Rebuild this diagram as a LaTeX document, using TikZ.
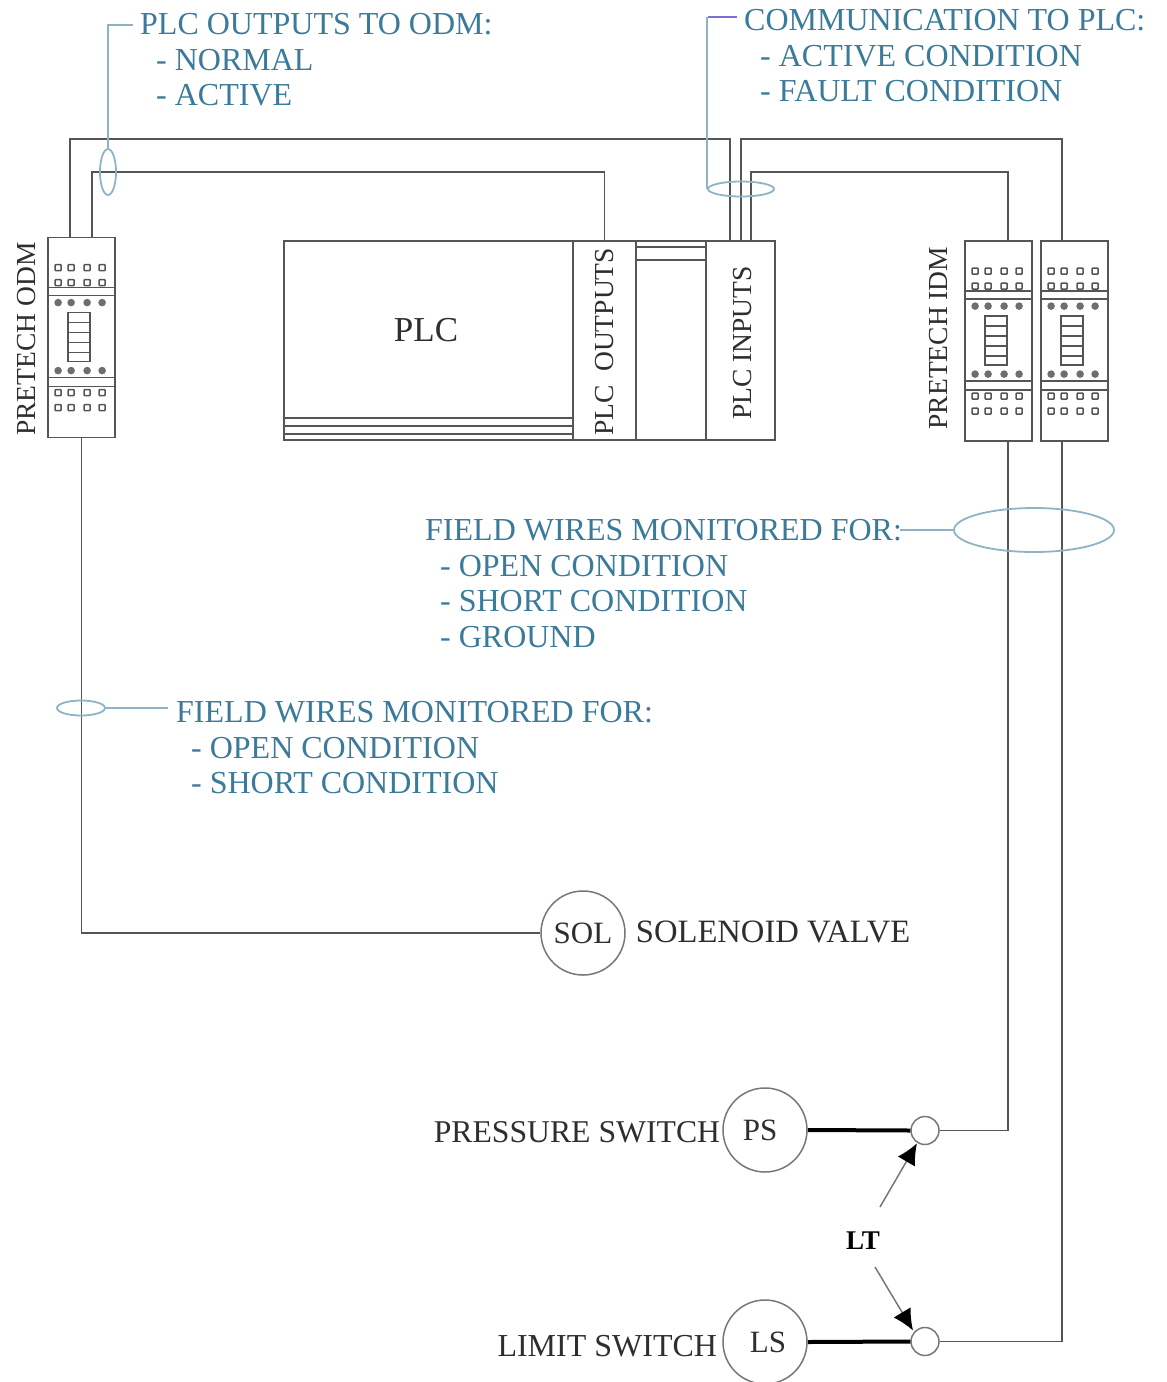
\documentclass[tikz,border=0pt]{standalone}
\usepackage{fontspec}
\setmainfont{Liberation Serif}
\usetikzlibrary{shapes.geometric, arrows.meta, positioning}
\definecolor{notecolor}{HTML}{3A7A9A}
\definecolor{ringcolor}{HTML}{8FB3C6}
\definecolor{bendcolor}{HTML}{7B6FD8}
\definecolor{wirecolor}{HTML}{555555}
\definecolor{labelcolor}{HTML}{2E2E2E}
\newcommand{\labelfont}[1]{\fontsize{#1}{35.5}\selectfont}
\newcommand{\relaybody}[1]{%
	\begin{scope}[shift={(#1.north west)}]
		\foreach \px in {11,24,40,55}{
			\foreach \py in {31,46,156,171}
				\draw[pin] (\px-3,\py-3) rectangle (\px+3,\py+3);
			\foreach \py in {66,134}
				\fill[wirecolor!85] (\px,\py) circle (3.8);
		}
		\draw[relayline] (0,51) -- (67,51) (0,59) -- (67,59) (0,141) -- (67,141) (0,150) -- (67,150);
		\draw[relayline] (21,76) rectangle (43,125);
		\foreach \py in {86,96,106,116}
			\draw[relayline] (21,\py) -- (43,\py);
	\end{scope}}
\tikzstyle{wire} = [draw=wirecolor, line width=1.8pt]
\tikzstyle{relayline} = [draw=wirecolor, line width=1.5pt]
\tikzstyle{pin} = [draw=wirecolor, line width=1.6pt, rounded corners=0.8pt]
\tikzstyle{relay} = [wire, rectangle, minimum width=67pt, minimum height=200pt, inner sep=0pt]
\tikzstyle{device} = [draw=wirecolor!80, line width=1.5pt, circle, minimum size=84pt, inner sep=0pt, text=labelcolor]
\tikzstyle{junction} = [draw=wirecolor!80, line width=1.5pt, circle, minimum size=28pt, inner sep=0pt]
\tikzstyle{ring} = [draw=ringcolor, line width=1.8pt, ellipse, inner sep=0pt]
\tikzstyle{leader} = [draw=ringcolor, line width=1.8pt]
\tikzstyle{pointer} = [-{Latex[length=21pt, width=20pt, color=black]}, draw=wirecolor!80, line width=1.5pt]
\tikzstyle{note} = [text=notecolor, align=left, anchor=west, inner sep=0pt]
\tikzstyle{caption} = [text=labelcolor, inner sep=0pt]
\tikzstyle{module} = [wire, rectangle, minimum height=199pt, inner sep=0pt]
\begin{document}
\begin{tikzpicture}[x=1pt, y=-1pt, every node/.append style={font=\labelfont{32}}]
	\useasboundingbox (0,0) rectangle (1167,1382);

	\node [relay] (odm) at (81.5,337.5) {};
	\node [relay] (idma) at (998.5,341) {};
	\node [relay] (idmb) at (1074.5,341) {};
	\relaybody{odm}
	\relaybody{idma}
	\relaybody{idmb}
	\node [caption, rotate=90, font=\labelfont{27.5}] (odmlabel) at (27,339) {PRETECH ODM};
	\node [caption, rotate=90, font=\labelfont{27.5}] (idmlabel) at (939,338) {PRETECH IDM};

	\node [module, minimum width=289pt] (plc) at (428.5,340.5) {};
	\node [module, minimum width=63pt] (plcout) at (604.5,340.5) {};
	\node [module, minimum width=70pt] (plcgap) at (671,340.5) {};
	\node [module, minimum width=69pt] (plcin) at (740.5,340.5) {};
	\draw [relayline] (plc.south west) ++(0,-7) -- ++(289,0) ++(-289,-8) -- ++(289,0) ++(-289,-8) -- ++(289,0);
	\draw [relayline] (plcgap.north west) ++(0,7) -- ++(70,0) ++(-70,13) -- ++(70,0);
	\node [caption, font=\labelfont{35}] (plclabel) at (426,330) {PLC};
	\node [caption, rotate=90, font=\labelfont{27.5}] (outlabel) at (605,342) {PLC\ \ OUTPUTS};
	\node [caption, rotate=90, font=\labelfont{27.5}] (inlabel) at (743,343) {PLC INPUTS};

	\coordinate (topa) at (730,139);
	\coordinate (topb) at (604.5,172);
	\coordinate (topc) at (1062,139);
	\coordinate (topd) at (1008,172);
	\draw [wire] ([xshift=-11.5pt]odm.north) |- (topa) -- (topa |- plcin.north);
	\draw [wire] ([xshift=10.5pt]odm.north) |- (topb) -- (plcout.north);
	\draw [wire] ([xshift=0.5pt]plcin.north) |- (topc) -- (idmb.north -| topc);
	\draw [wire] ([xshift=10.5pt]plcin.north) |- (topd) -- (idma.north -| topd);

	\node [device] (sol) at (583,933) {\raisebox{-1pt}{\labelfont{31}SOL}};
	\node [device] (ps) at (765,1130) {\raisebox{-2pt}{\labelfont{31}\hspace*{-10pt}PS}};
	\node [device] (ls) at (765,1342) {\raisebox{-3pt}{\labelfont{31}\hspace*{6pt}LS}};
	\node [junction] (psj) at (925,1130.5) {};
	\node [junction] (lsj) at (925,1341.5) {};
	\node [caption, left=2pt of ps, yshift=-2pt, font=\labelfont{31.7}] (pslabel) {PRESSURE SWITCH};
	\node [caption, left=5pt of ls, yshift=-4pt, font=\labelfont{32}] (lslabel) {LIMIT SWITCH};
	\node [caption, right=10pt of sol, yshift=1pt, font=\labelfont{32.6}] (sollabel) {SOLENOID VALVE};
	\node [inner sep=0pt, font=\labelfont{27}\bfseries] (lt) at (863,1241) {LT};

	\draw [wire] (odm.south) |- (sol.west);
	\draw [wire] ([xshift=9.5pt]idma.south) |- (psj.east);
	\draw [wire] ([xshift=-12.5pt]idmb.south) |- (lsj.east);
	\draw [line width=4pt] (ps.east) -- (psj.west);
	\draw [line width=4pt] (ls.east) -- (lsj.west);
	\draw [pointer] ([shift={(17pt,34pt)}]lt.center) -- ([shift={(-8pt,2pt)}]psj.south);
	\draw [pointer] ([shift={(12pt,-26pt)}]lt.center) -- ([shift={(-12pt,11pt)}]lsj.center);

	\node [ring, minimum width=16pt, minimum height=46pt] (outring) at (108,172) {};
	\node [ring, minimum width=66pt, minimum height=15pt] (inring) at (741,189) {};
	\node [ring, minimum width=160pt, minimum height=44pt] (fieldringa) at (1034,530) {};
	\node [ring, minimum width=48pt, minimum height=15pt] (fieldringb) at (81,708) {};

	\node [note] (outnote) at (140,60) {PLC OUTPUTS TO ODM:\\\hspace*{16pt}- NORMAL\\\hspace*{16pt}- ACTIVE};
	\node [note] (innote) at (744,56) {COMMUNICATION TO PLC:\\\hspace*{16pt}- ACTIVE CONDITION\\\hspace*{16pt}- FAULT CONDITION};
	\node [note] (fieldnotea) at (425,583.5) {FIELD WIRES MONITORED FOR:\\\hspace*{15pt}- OPEN CONDITION\\\hspace*{15pt}- SHORT CONDITION\\\hspace*{15pt}- GROUND};
	\node [note] (fieldnoteb) at (176,748) {FIELD WIRES MONITORED FOR:\\\hspace*{15pt}- OPEN CONDITION\\\hspace*{15pt}- SHORT CONDITION};

	\coordinate (outbend) at (133,25);
	\coordinate (inbend) at (708,17);
	\coordinate (inend) at (737,17);
	\coordinate (fieldenda) at (900,530);
	\coordinate (fieldendb) at (168,708);
	\draw [leader] (outring.north) |- (outbend);
	\draw [leader] (inring.west) -- (inring.west |- inbend);
	\draw [draw=bendcolor, line width=1.8pt] (inbend) -- (inend);
	\draw [leader] (fieldringa.west) -- (fieldenda);
	\draw [leader] (fieldringb.east) -- (fieldendb);
\end{tikzpicture}
\end{document}
